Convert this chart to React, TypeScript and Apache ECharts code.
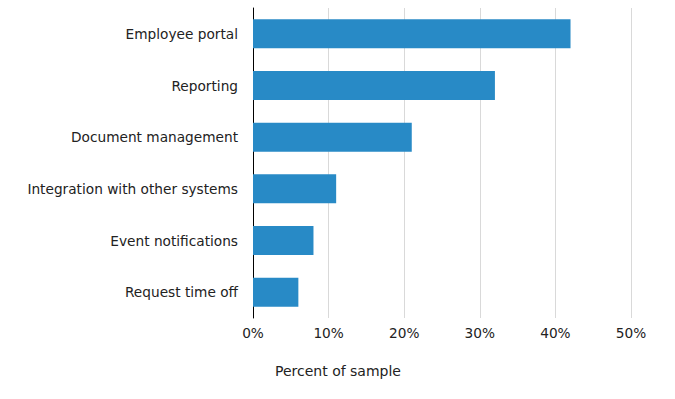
import React, { useEffect, useRef } from "react";
import * as echarts from "echarts";

const categories = [
  "Employee portal",
  "Reporting",
  "Document management",
  "Integration with other systems",
  "Event notifications",
  "Request time off",
];
const values = [42, 32, 21, 11, 8, 6];
const tickValues = [0, 10, 20, 30, 40, 50];
const axisTitle = "Percent of sample";

export default function App() {
  const ref = useRef<HTMLDivElement>(null);
  useEffect(() => {
    const chart = echarts.init(ref.current!, null, { renderer: "svg" });
    const font = "'DejaVu Sans', Verdana, sans-serif";
    chart.setOption({
      animation: false,
      grid: { left: 253, right: 44, top: 8, bottom: 81, containLabel: false },
      xAxis: {
        type: "value",
        min: tickValues[0],
        max: tickValues[tickValues.length - 1],
        interval: 10,
        axisLine: { show: false },
        axisTick: { show: false },
        splitLine: { show: true, lineStyle: { color: "#d9d9d9", width: 1 } },
        axisLabel: {
          formatter: "{value}%",
          color: "#222",
          fontFamily: font,
          fontSize: 13.7,
          margin: 8,
        },
      },
      yAxis: {
        type: "category",
        data: categories,
        inverse: true,
        axisLine: { show: true, lineStyle: { color: "#000", width: 1 } },
        axisTick: { show: false },
        axisLabel: {
          color: "#222",
          fontFamily: font,
          fontSize: 13.7,
          margin: 15,
        },
      },
      series: [
        {
          type: "bar",
          data: values,
          barCategoryGap: "44%",
          itemStyle: { color: "#288ac6" },
        },
      ],
      graphic: [
        {
          type: "text",
          left: 275,
          top: 364,
          style: {
            text: axisTitle,
            fill: "#222",
            font: `14px ${font}`,
          },
        },
      ],
    });
    return () => chart.dispose();
  }, []);
  return <div ref={ref} style={{ width: 675, height: 399, position: "absolute", left: 0, top: 0 }} />;
}
